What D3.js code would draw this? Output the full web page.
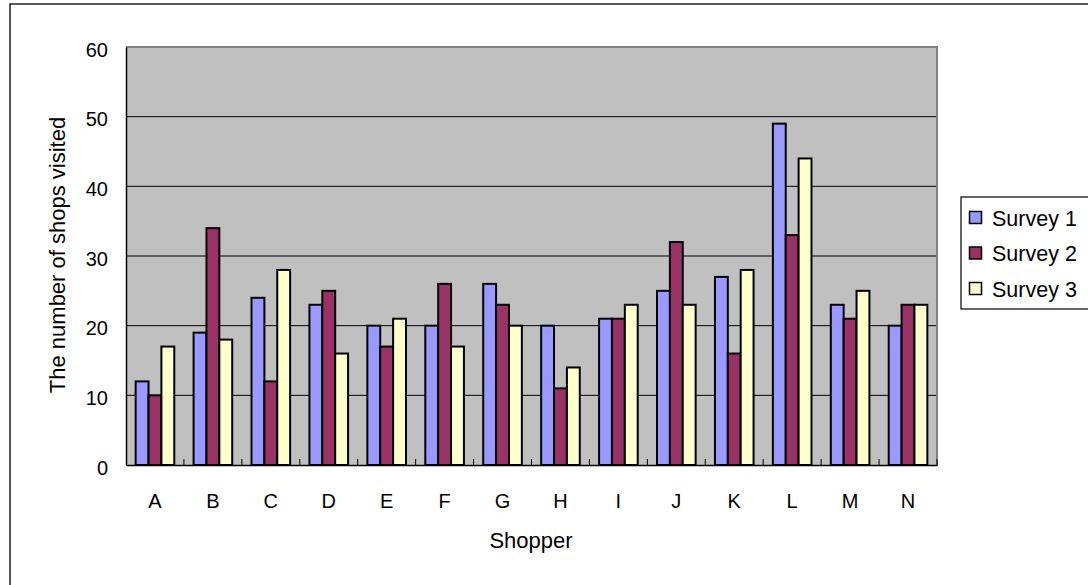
<!DOCTYPE html>
<html>
<head>
<meta charset="utf-8">
<script src="https://cdn.jsdelivr.net/npm/d3@7"></script>
<style>
  html, body { margin: 0; padding: 0; background: #fff; }
  svg { display: block; font-family: "Liberation Sans", Arial, sans-serif; }
</style>
</head>
<body>
<svg id="chart" width="1088" height="585"></svg>
<script>
// Shops visited per shopper, three survey rounds
const shoppers = ["A", "B", "C", "D", "E", "F", "G", "H", "I", "J", "K", "L", "M", "N"];
const seriesNames = ["Survey 1", "Survey 2", "Survey 3"];
const survey1 = [12, 19, 24, 23, 20, 20, 26, 20, 21, 25, 27, 49, 23, 20];
const survey2 = [10, 34, 12, 25, 17, 26, 23, 11, 21, 32, 16, 33, 21, 23];
const survey3 = [17, 18, 28, 16, 21, 17, 20, 14, 23, 23, 28, 44, 25, 23];
const yTicks = [0, 10, 20, 30, 40, 50, 60];
const seriesColors = ["#9999FF", "#993366", "#FFFFCC"];

const seriesValues = [survey1, survey2, survey3];

const svg = d3.select("#chart");
const plot = { left: 126, right: 937, top: 47, bottom: 465 };

// Outer chart frame (runs past the right and bottom edges)
svg.append("rect")
  .attr("x", 10).attr("y", 4)
  .attr("width", 1200).attr("height", 700)
  .attr("fill", "#fff").attr("stroke", "#222").attr("stroke-width", 1.5);

const x = d3.scaleBand().domain(shoppers).range([plot.left, plot.right]).padding(0);
const bw = x.bandwidth();
const gapHalf = bw * 0.75 / 4.5;
const xs = d3.scaleBand().domain(seriesNames).range([gapHalf, bw - gapHalf]).padding(0);
const y = d3.scaleLinear().domain([0, 60]).range([plot.bottom, plot.top]);

// Plot background
svg.append("rect")
  .attr("x", plot.left).attr("y", plot.top)
  .attr("width", plot.right - plot.left).attr("height", plot.bottom - plot.top)
  .attr("fill", "#C0C0C0");

// Horizontal gridlines
svg.append("g").selectAll("line")
  .data(yTicks.filter(t => t > 0 && t < 60))
  .join("line")
  .attr("x1", plot.left).attr("x2", plot.right)
  .attr("y1", d => y(d)).attr("y2", d => y(d))
  .attr("stroke", "#000").attr("stroke-width", 1);

// Plot border (top & right)
svg.append("path")
  .attr("d", `M${plot.left},${plot.top}H${plot.right}V${plot.bottom}`)
  .attr("fill", "none").attr("stroke", "#808080").attr("stroke-width", 2);

// Bars
const groups = svg.append("g").selectAll("g")
  .data(shoppers)
  .join("g")
  .attr("transform", d => `translate(${x(d)},0)`);

groups.selectAll("rect")
  .data((d, i) => seriesNames.map((s, k) => ({ s, k, v: seriesValues[k][i] })))
  .join("rect")
  .attr("x", d => xs(d.s))
  .attr("width", xs.bandwidth())
  .attr("y", d => y(d.v))
  .attr("height", d => y(0) - y(d.v))
  .attr("fill", d => seriesColors[d.k])
  .attr("stroke", "#000").attr("stroke-width", 2);

// Y axis
const yAxis = d3.axisLeft(y).tickValues(yTicks).tickSize(0).tickPadding(18);
const yg = svg.append("g").attr("transform", `translate(${plot.left},0)`).call(yAxis);
yg.select(".domain").attr("stroke", "#000").attr("stroke-width", 1.5);
yg.selectAll("text").attr("font-size", 20).attr("fill", "#000")
  .attr("font-family", "Liberation Sans, Arial, sans-serif").attr("dy", "0.45em");

// X axis with small inner ticks at category boundaries
const xAxis = d3.axisBottom(x).tickSize(0).tickPadding(29);
const xg = svg.append("g").attr("transform", `translate(0,${plot.bottom})`).call(xAxis);
xg.select(".domain").attr("stroke", "#000").attr("stroke-width", 1.5);
xg.selectAll("text").attr("font-size", 20).attr("fill", "#000")
  .attr("font-family", "Liberation Sans, Arial, sans-serif");

svg.append("g").selectAll("line")
  .data(shoppers.slice(1).concat(["end"]))
  .join("line")
  .attr("x1", d => d === "end" ? plot.right : x(d))
  .attr("x2", d => d === "end" ? plot.right : x(d))
  .attr("y1", plot.bottom).attr("y2", plot.bottom - 6)
  .attr("stroke", "#000").attr("stroke-width", 1);

// Axis titles
svg.append("text")
  .attr("x", 531).attr("y", 548)
  .attr("text-anchor", "middle")
  .attr("font-size", 22).attr("fill", "#000")
  .text("Shopper");

svg.append("text")
  .attr("transform", "translate(65,255) rotate(-90)")
  .attr("text-anchor", "middle")
  .attr("font-size", 22).attr("fill", "#000")
  .text("The number of shops visited");

// Legend
const legend = svg.append("g");
legend.append("rect")
  .attr("x", 961).attr("y", 197)
  .attr("width", 200).attr("height", 112)
  .attr("fill", "#fff").attr("stroke", "#000").attr("stroke-width", 1.2);

const items = legend.selectAll("g.item")
  .data(seriesNames)
  .join("g").attr("class", "item")
  .attr("transform", (d, i) => `translate(0,${218 + i * 35.5})`);

items.append("rect")
  .attr("x", 969.5).attr("y", -6.5)
  .attr("width", 12).attr("height", 12)
  .attr("fill", (d, i) => seriesColors[i])
  .attr("stroke", "#000").attr("stroke-width", 1.5);

items.append("text")
  .attr("x", 992).attr("y", 0).attr("dy", "0.36em")
  .attr("font-size", 21.5).attr("fill", "#000")
  .text(d => d);
</script>
</body>
</html>
